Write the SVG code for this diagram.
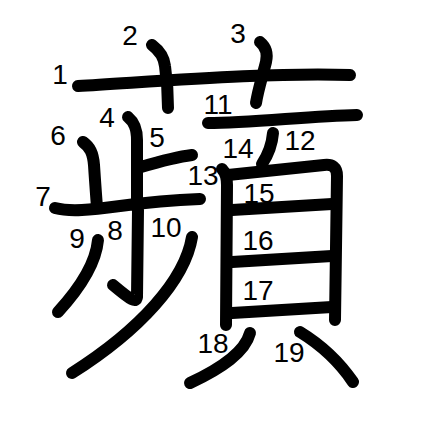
<svg xmlns="http://www.w3.org/2000/svg" width="447" height="447" viewBox="0 0 447 447">
<style>
.s{fill:none;stroke:#000;stroke-width:12;stroke-linecap:round;stroke-linejoin:round}
.n{font-family:"Liberation Sans",Arial,sans-serif;font-size:28px;fill:#000;text-anchor:middle}
</style>
<rect width="447" height="447" fill="#fff"/>
<g id="strokes">
<path class="s" d="M78,86 C150,82 270,72 350,75"/>
<path class="s" d="M152,45 C160,51 164,57 165,66 C167,80 168,95 168,108"/>
<path class="s" d="M260,42 C266,47 268,53 266,62 C262,78 258,90 256,103"/>
<path class="s" d="M128,117 C134,122 137,128 137,140 L137,208"/>
<path class="s" d="M141,167 C158,162 176,157 192,155"/>
<path class="s" d="M83,142 C90,147 93,153 94,165 C95,180 96,195 97,207"/>
<path class="s" d="M55,208 C70,212 90,210 120,206 C150,202 175,200 200,199"/>
<path class="s" d="M138,210 L137,297 C136,303 132,301 113,285"/>
<path class="s" d="M98,240 C96,262 80,288 58,312"/>
<path class="s" d="M192,237 C185,280 140,330 72,373"/>
<path class="s" d="M208,123 C250,123 310,116 357,115"/>
<path class="s" d="M273,133 C272,145 268,155 262,164"/>
<path class="s" d="M222,169 C226,173 227,178 227,185 L226,325"/>
<path class="s" d="M228,175 L324,165 C332,164 337,167 337,176 L335,320"/>
<path class="s" d="M232,210 L332,204"/>
<path class="s" d="M232,262 L332,256"/>
<path class="s" d="M232,313 L332,307"/>
<path class="s" d="M250,333 C245,352 222,368 190,383"/>
<path class="s" d="M300,332 C318,343 338,360 353,382"/>
</g>
<g id="labels">
<text class="n" x="60" y="84">1</text>
<text class="n" x="130" y="45">2</text>
<text class="n" x="238" y="43">3</text>
<text class="n" x="107" y="127">4</text>
<text class="n" x="157" y="147">5</text>
<text class="n" x="58" y="145">6</text>
<text class="n" x="43" y="206">7</text>
<text class="n" x="115" y="240">8</text>
<text class="n" x="77" y="248">9</text>
<text class="n" x="166" y="237">10</text>
<text class="n" x="218" y="114">11</text>
<text class="n" x="300" y="150">12</text>
<text class="n" x="203" y="185">13</text>
<text class="n" x="238" y="158">14</text>
<text class="n" x="259" y="203">15</text>
<text class="n" x="258" y="250">16</text>
<text class="n" x="258" y="300">17</text>
<text class="n" x="213" y="353">18</text>
<text class="n" x="289" y="362">19</text>
</g>
</svg>
